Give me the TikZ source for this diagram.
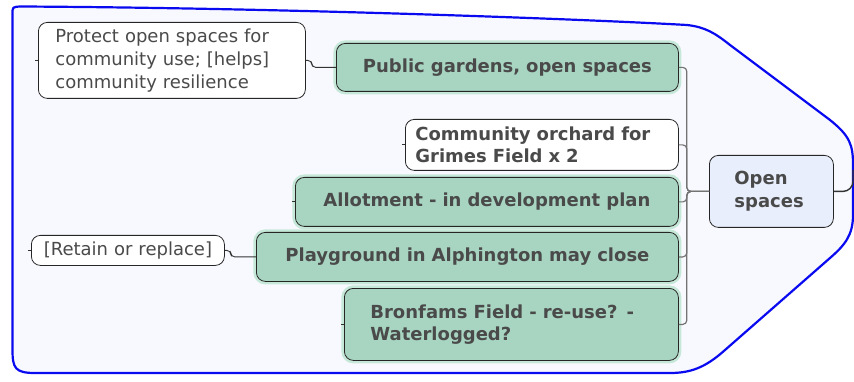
\documentclass[tikz,border=0pt]{standalone}
\usepackage{fontspec}
\setmainfont{DejaVu Sans}
\usepackage{tikz}
\usetikzlibrary{positioning, calc}

\definecolor{areafill}{HTML}{F8F9FE}
\definecolor{areablue}{HTML}{0A0AF0}
\definecolor{topicgreen}{HTML}{A8D5C2}
\definecolor{topicglow}{HTML}{C6E8D8}
\definecolor{roottint}{HTML}{E8EEFB}
\definecolor{inktext}{HTML}{4A4A4A}

\tikzset{
  topic/.style={draw=black!85, line width=0.8pt, rounded corners=9pt, text=inktext,
    font=\bfseries\fontsize{18}{22.5}\selectfont, anchor=north west, inner ysep=0pt},
  greentopic/.style={topic, fill=topicgreen,
    preaction={draw=topicglow, line width=6pt, rounded corners=9pt}},
  whitetopic/.style={topic, fill=white},
  notebox/.style={draw=black!85, line width=0.8pt, rounded corners=9pt, fill=white, text=inktext,
    font=\fontsize{18}{23}\selectfont, anchor=north west, inner ysep=0pt},
  link/.style={draw=black!80, line width=0.9pt, rounded corners=4pt},
  trunk/.style={draw=black!55, line width=1.2pt, rounded corners=4pt},
  stub/.style={draw=black!80, line width=0.8pt}
}

\begin{document}
\begin{tikzpicture}[x=1pt, y=-1pt]
  \useasboundingbox (0,0) rectangle (854,382);

  % boundary of the open spaces group
  \draw[areablue, line width=2.2pt, fill=areafill]
    (12.5,350) -- (12.5,14) .. controls (12.5,7) .. (20,6.5)
    .. controls (300,8) and (600,20) .. (687,25)
    .. controls (705,27) and (715,33) .. (730,45)
    -- (830,120) .. controls (850,136) and (853,145) .. (853,165)
    -- (853,215) .. controls (853,235) and (845,245) .. (830,258)
    -- (725,350) .. controls (705,368) and (690,373) .. (670,373)
    -- (35,373) .. controls (15,373) and (12.5,368) .. (12.5,350) -- cycle;

  % central topic
  \node[topic, fill=roottint, minimum width=124pt, minimum height=72pt,
        text width=74pt, align=left, inner xsep=25pt] (open) at (709,155) {Open\\spaces};

  % subtopics
  \node[greentopic, minimum width=342pt, minimum height=48pt, text width=330pt, align=center,
        inner xsep=6pt] (gardens) at (336,43) {Public gardens, open spaces};
  \node[whitetopic, minimum width=273pt, minimum height=51pt, text width=253pt, align=left,
        inner xsep=10pt] (orchard) at (405,119) {Community orchard for\\Grimes Field x 2};
  \node[greentopic, minimum width=383pt, minimum height=49pt, text width=371pt, align=center,
        inner xsep=6pt] (allot) at (295,177) {Allotment - in development plan};
  \node[greentopic, minimum width=422pt, minimum height=49pt, text width=410pt, align=center,
        inner xsep=6pt] (play) at (256,232) {Playground in Alphington may close};
  \node[greentopic, minimum width=334pt, minimum height=72pt, text width=282pt, align=left,
        inner xsep=26pt] (bronfams) at (344,288) {Bronfams Field - re-use? -\\Waterlogged?};

  % notes
  \node[notebox, minimum width=267pt, minimum height=76pt, text width=233pt, align=left,
        inner xsep=17pt] (protect) at (38,22)
        {Protect open spaces for\\community use; [helps]\\community resilience};
  \node[notebox, minimum width=193pt, minimum height=30pt, text width=185pt, align=center,
        inner xsep=4pt] (retain) at (31,235) {[Retain or replace]};

  % connectors
  \foreach \t in {gardens, orchard, allot, play, bronfams}
    \draw[trunk] (\t.east) -- ++(8,0) |- (open.west);
  \draw[link] (protect.east) -- ++(6,0) |- (gardens.west);
  \draw[link] (retain.east) -- ++(6,0) |- (play.west);
  \coordinate (offpage) at (853,170);
  \draw[link, line width=1.4pt, rounded corners=10pt] (open.east) -| (offpage);

  % collapse stubs
  \foreach \t in {protect, retain, orchard, allot, bronfams}
    \draw[stub] (\t.west) -- ++(-3,0);
\end{tikzpicture}
\end{document}
